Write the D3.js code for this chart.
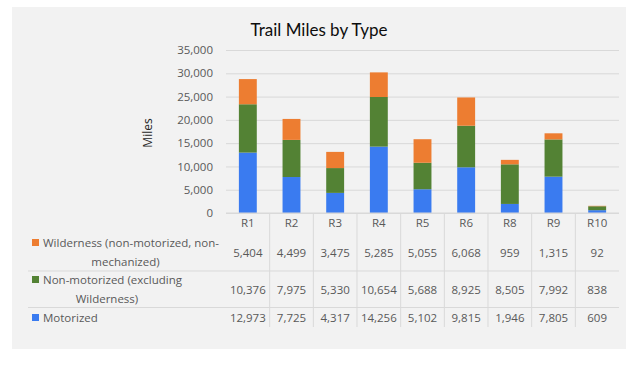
<!DOCTYPE html>
<html lang="en">
<head>
    <meta charset="UTF-8">
    <script src="https://d3js.org/d3.v7.min.js"></script>
    <title>Trail Miles by Type</title>
    <style>
        body { margin: 0; background: #fff; }
        text { font-family: "Open Sans", "DejaVu Sans", sans-serif; }
    </style>
</head>
<body>
    <script>

        // data
        var regions = ["R1", "R2", "R3", "R4", "R5", "R6", "R8", "R9", "R10"];
        var motorized = [12973, 7725, 4317, 14256, 5102, 9815, 1946, 7805, 609];
        var nonMotorized = [10376, 7975, 5330, 10654, 5688, 8925, 8505, 7992, 838];
        var wilderness = [5404, 4499, 3475, 5285, 5055, 6068, 959, 1315, 92];
        var yTicks = [0, 5000, 10000, 15000, 20000, 25000, 30000, 35000];

        var seriesNames = ["Motorized", "Non-motorized (excluding Wilderness)", "Wilderness (non-motorized, non-mechanized)"];
        var seriesLines = [["Motorized"], ["Non-motorized (excluding", "Wilderness)"], ["Wilderness (non-motorized, non-", "mechanized)"]];
        var colors = ["#3a7bf0", "#538234", "#ed7d31"];

        var width = 630, height = 365;
        var margin = {top: 50, right: 11, bottom: 152, left: 226};

        var svg = d3.select("body")
            .append("svg")
            .attr("width", width)
            .attr("height", height);

        // gray chart area
        svg.append("rect")
            .attr("x", 12).attr("y", 7)
            .attr("width", 614).attr("height", 342)
            .attr("fill", "#f2f2f2");

        var table = regions.map(function(r, i) {
            return {region: r, Motorized: motorized[i], NonMotorized: nonMotorized[i], Wilderness: wilderness[i]};
        });
        var keys = ["Motorized", "NonMotorized", "Wilderness"];

        var xBand = d3.scaleBand()
            .domain(regions)
            .range([margin.left, width - margin.right - 0])
            .paddingInner(0.59)
            .paddingOuter(0.295);

        var xCol = d3.scaleBand()
            .domain(regions)
            .range([margin.left, width - margin.right]);

        var yScale = d3.scaleLinear()
            .domain([0, 35000])
            .range([height - margin.bottom, margin.top]);

        // grid lines + y labels
        var yAxis = d3.axisLeft(yScale)
            .tickValues(yTicks)
            .tickSize(-(width - margin.right - margin.left))
            .tickPadding(13)
            .tickFormat(d3.format(","));

        var gy = svg.append("g")
            .attr("transform", "translate(" + margin.left + ",0)")
            .call(yAxis);
        gy.select(".domain").remove();
        gy.selectAll("line").attr("stroke", "#d9d9d9");
        gy.selectAll("text")
            .attr("fill", "#595959")
            .style("font-size", "11.5px");

        // stacked bars
        var stack = d3.stack().keys(keys)(table);

        svg.append("g")
            .selectAll("g")
            .data(stack)
            .enter().append("g")
            .attr("fill", function(d, i) { return colors[i]; })
            .selectAll("rect")
            .data(function(d) { return d; })
            .enter().append("rect")
            .attr("x", function(d) { return xBand(d.data.region); })
            .attr("y", function(d) { return yScale(d[1]); })
            .attr("width", xBand.bandwidth())
            .attr("height", function(d) { return yScale(d[0]) - yScale(d[1]); });

        // x axis line
        var y0 = yScale(0);
        svg.append("line")
            .attr("x1", margin.left).attr("x2", width - margin.right)
            .attr("y1", y0).attr("y2", y0)
            .attr("stroke", "#d9d9d9");

        // data table below the chart
        var rowY = [318, 289.5, 252.5];   // motorized, non-motorized, wilderness
        var tableBottom = 327;
        var tableLeft = 28;

        regions.slice(1).forEach(function(r) {
            svg.append("line")
                .attr("x1", xCol(r)).attr("x2", xCol(r))
                .attr("y1", y0).attr("y2", tableBottom)
                .attr("stroke", "#d9d9d9");
        });

        [271, 307.5].forEach(function(yy) {
            svg.append("line")
                .attr("x1", tableLeft).attr("x2", width - margin.right)
                .attr("y1", yy).attr("y2", yy)
                .attr("stroke", "#d9d9d9");
        });

        svg.append("g")
            .selectAll("text")
            .data(regions)
            .enter().append("text")
            .attr("x", function(d) { return xCol(d) + xCol.bandwidth() / 2; })
            .attr("y", y0 + 10)
            .attr("dy", "0.35em")
            .attr("text-anchor", "middle")
            .attr("fill", "#595959")
            .style("font-size", "11.5px")
            .text(function(d) { return d; });

        var values = [motorized, nonMotorized, wilderness];
        var fmt = d3.format(",");
        values.forEach(function(vals, s) {
            svg.append("g")
                .selectAll("text")
                .data(vals)
                .enter().append("text")
                .attr("x", function(d, i) { return xCol(regions[i]) + xCol.bandwidth() / 2; })
                .attr("y", rowY[s])
                .attr("dy", "0.35em")
                .attr("text-anchor", "middle")
                .attr("fill", "#595959")
                .style("font-size", "11.5px")
                .text(function(d) { return fmt(d); });
        });

        // legend cells: marker + wrapped centred lines
        var markerX = 32, markerSize = 7, lineH = 19;
        seriesLines.forEach(function(lines, s) {
            var g = svg.append("g");
            var texts = lines.map(function(l, j) {
                return g.append("text")
                    .attr("y", rowY[s] + (j - (lines.length - 1) / 2) * lineH)
                    .attr("dy", "0.35em")
                    .attr("text-anchor", "middle")
                    .attr("fill", "#595959")
                    .style("font-size", "11.5px")
                    .text(l);
            });
            var w = texts.map(function(t, j) {
                return t.node().getComputedTextLength() + (j === 0 ? markerSize + 4 : 0);
            });
            var blockW = d3.max(w);
            var cx = markerX + blockW / 2;
            texts.forEach(function(t, j) {
                if (j === 0) {
                    var start = cx - w[0] / 2;
                    g.append("rect")
                        .attr("x", start)
                        .attr("y", rowY[s] - (lines.length - 1) / 2 * lineH - 4)
                        .attr("width", markerSize).attr("height", markerSize)
                        .attr("fill", colors[s]);
                    t.attr("x", start + markerSize + 4 + (w[0] - markerSize - 4) / 2);
                } else {
                    t.attr("x", cx);
                }
            });
        });

        // axis title
        svg.append("text")
            .attr("transform", "translate(148," + 133 + ") rotate(-90)")
            .attr("text-anchor", "middle")
            .attr("dy", "0.35em")
            .attr("fill", "#262626")
            .style("font-size", "12px")
            .text("Miles");

        // chart title
        svg.append("text")
            .attr("x", 319)
            .attr("y", 30)
            .attr("dy", "0.35em")
            .attr("text-anchor", "middle")
            .attr("fill", "#0d0d0d")
            .style("font-family", "Lato, 'Open Sans', sans-serif")
            .style("font-size", "17px")
            .text("Trail Miles by Type");

    </script>
</body>
</html>
